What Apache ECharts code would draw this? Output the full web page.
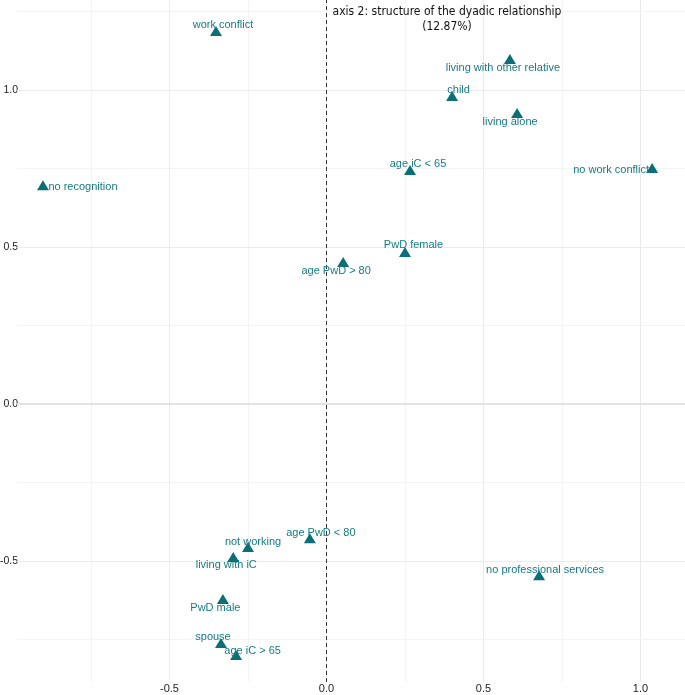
<!DOCTYPE html>
<html>
<head>
<meta charset="utf-8">
<script src="https://cdn.jsdelivr.net/npm/echarts@6/dist/echarts.min.js"></script>
<style>
html,body{margin:0;padding:0;background:#fff;}
#chart{width:685px;height:695px;}
</style>
</head>
<body>
<div id="chart"></div>
<script>
// ---- data ----
const categories = [
  'work conflict', 'living with other relative', 'child', 'living alone',
  'age iC < 65', 'no work conflict', 'no recognition', 'PwD female',
  'age PwD > 80', 'age PwD < 80', 'not working', 'living with iC',
  'PwD male', 'spouse', 'age iC > 65', 'no professional services'
];
const axis1Values = [-0.352, 0.584, 0.400, 0.607, 0.266, 1.037, -0.903, 0.250,
  0.053, -0.053, -0.250, -0.297, -0.330, -0.336, -0.288, 0.677];
const axis2Values = [1.188, 1.099, 0.981, 0.927, 0.745, 0.752, 0.697, 0.484,
  0.452, -0.427, -0.455, -0.487, -0.621, -0.761, -0.799, -0.545];
const xTickLabels = [-0.5, 0.0, 0.5, 1.0];
const yTickLabels = [-0.5, 0.0, 0.5, 1.0];
const xMinorBreaks = [-0.75, -0.25, 0.25, 0.75];
const yMinorBreaks = [-0.75, -0.25, 0.25, 0.75, 1.25];
const axisTitle = ['axis 2: structure of the dyadic relationship', '(12.87%)'];

// ---- layout (label nudges, px) ----
const labelOffsets = [
  [7, -6], [-7, 9], [6.5, -6], [-7, 9], [8, -6], [-41, 2], [40, 2], [8.5, -7],
  [-7, 9], [11, -5], [5, -5], [-7, 8], [-7.5, 9], [-8, -6], [16.5, -4], [6, -5]
];

const TEAL = '#0b6f77';
const chart = echarts.init(document.getElementById('chart'), null, {renderer: 'canvas'});

const gridLines = [];
xTickLabels.forEach(v => gridLines.push({xAxis: v, lineStyle: {color: '#ebebeb', width: 1, type: 'solid'}}));
xMinorBreaks.forEach(v => gridLines.push({xAxis: v, lineStyle: {color: '#f4f4f4', width: 1, type: 'solid'}}));
yTickLabels.forEach(v => gridLines.push({yAxis: v, lineStyle: v === 0 ? {color: '#e2e2e2', width: 2, type: 'solid'} : {color: '#ebebeb', width: 1, type: 'solid'}}));
yMinorBreaks.forEach(v => gridLines.push({yAxis: v, lineStyle: {color: '#f4f4f4', width: 1, type: 'solid'}}));

const option = {
  animation: false,
  backgroundColor: '#ffffff',
  grid: {left: 17, right: 0, top: 0, bottom: 13, containLabel: false, outerBoundsMode: 'none'},
  xAxis: {
    type: 'value', min: -0.9857, max: 1.1417,
    axisLine: {show: false}, axisTick: {show: false}, splitLine: {show: false},
    axisLabel: {customValues: xTickLabels, formatter: v => v.toFixed(1), margin: 1,
      color: '#222', fontSize: 11, fontFamily: 'Liberation Sans, Arial, sans-serif'}
  },
  yAxis: {
    type: 'value', min: -0.885, max: 1.2866,
    axisLine: {show: false}, axisTick: {show: false}, splitLine: {show: false},
    axisLabel: {customValues: yTickLabels, formatter: v => v.toFixed(1), margin: -1,
      color: '#222', fontSize: 10.5, fontFamily: 'Liberation Sans, Arial, sans-serif'}
  },
  graphic: axisTitle.map((t, i) => ({
    type: 'text', x: 447, y: 12 + i * 15, z: 10,
    style: {text: t, align: 'center', verticalAlign: 'middle', fill: '#111',
      font: "12px 'Liberation Sans Narrow', 'DejaVu Sans Condensed', sans-serif"}
  })),
  series: [
    {
      type: 'line', data: [], z: 1, silent: true,
      markLine: {silent: true, symbol: ['none', 'none'], label: {show: false}, animation: false, data: gridLines}
    },
    {
      type: 'line', data: [], z: 2, silent: true,
      markLine: {silent: true, symbol: ['none', 'none'], label: {show: false}, animation: false,
        data: [{xAxis: 0, lineStyle: {color: '#333', width: 1, type: [4, 3]}}]}
    },
    {
      type: 'scatter', z: 5,
      symbol: 'triangle', symbolSize: [12, 10],
      itemStyle: {color: TEAL, opacity: 1},
      label: {show: true, position: 'inside', formatter: '{b}', color: '#167a82',
        fontSize: 11, fontFamily: 'Liberation Sans, Arial, sans-serif', align: 'center', verticalAlign: 'middle'},
      data: categories.map((n, i) => ({
        name: n, value: [axis1Values[i], axis2Values[i]],
        label: {offset: labelOffsets[i]}
      }))
    }
  ]
};
chart.setOption(option);
</script>
</body>
</html>
